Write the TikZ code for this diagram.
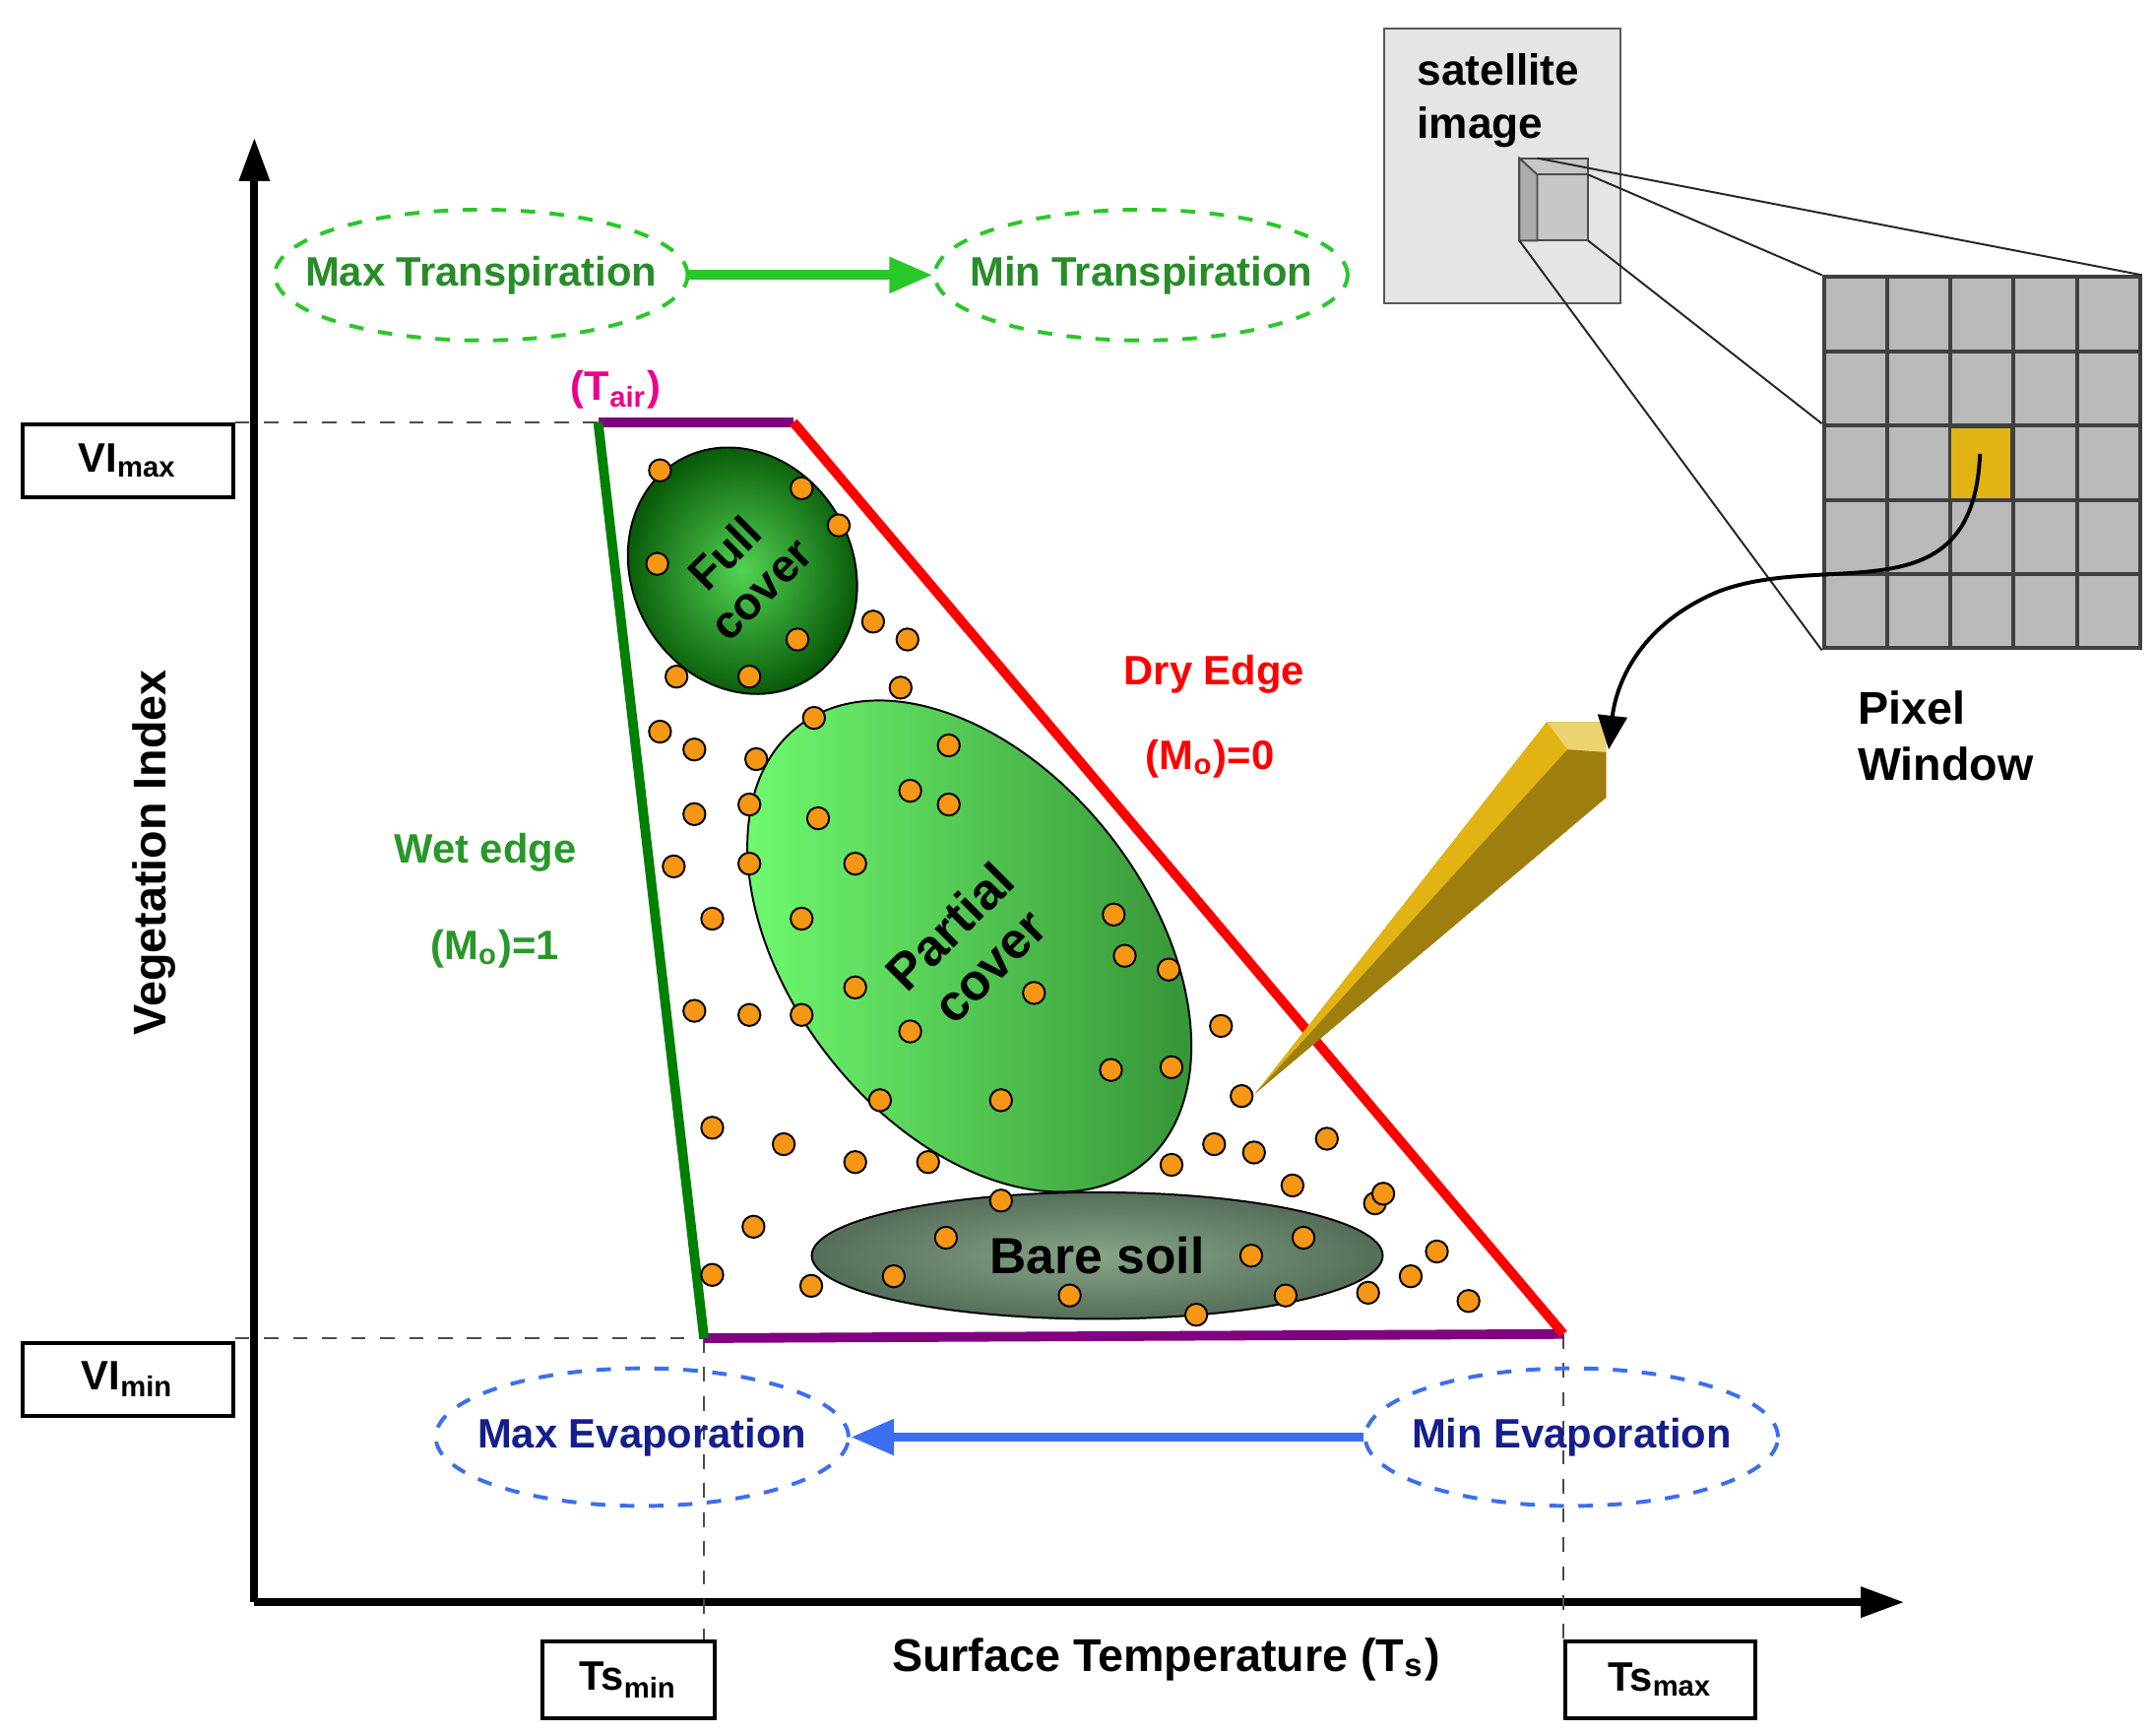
\documentclass[tikz,border=0pt]{standalone}
\usepackage{fontspec}
\setmainfont{Liberation Sans}
\usetikzlibrary{shapes.geometric,arrows.meta}
\definecolor{dgreen}{RGB}{40,140,40}
\definecolor{lgreen}{RGB}{40,200,40}
\definecolor{dblue}{RGB}{20,30,140}
\definecolor{lblue}{RGB}{60,110,240}
\definecolor{dotc}{RGB}{245,150,20}
\definecolor{gold}{RGB}{225,180,20}
\definecolor{soilin}{RGB}{135,165,135}
\definecolor{soilout}{RGB}{85,110,90}
\begin{document}
\begin{tikzpicture}[x=0.01cm,y=-0.01cm,
  txt/.style={font=\fontsize{8.5}{10}\selectfont\bfseries},
  lbox/.style={draw,thick,minimum width=1.53cm,minimum height=0.53cm,anchor=north west,txt,inner sep=0},
  dell/.style={ellipse,dashed,thick,minimum width=3cm,minimum height=0.95cm,inner sep=0},
  dot/.style={circle,draw=black,fill=dotc,minimum size=0.16cm,inner sep=0,line width=0.4pt},
  ax/.style={line width=1.6pt,-{Triangle[length=9pt,width=6pt]}}]
\useasboundingbox (0,0) rectangle (1568,1260);
% axes
\coordinate (o) at (185,1165);
\coordinate (ytop) at (185,100);
\coordinate (xend) at (1385,1165);
\draw[ax] (o) -- (ytop);
\draw[ax] (o) -- (xend);
% label boxes
\node[lbox] (vimax) at (15,307) {VI\textsubscript{max}};
\node[lbox] (vimin) at (15,975) {VI\textsubscript{min}};
\node[lbox,minimum width=1.25cm,minimum height=0.56cm] (tsmin) at (393,1192) {Ts\textsubscript{min}};
\node[lbox,minimum width=1.38cm,minimum height=0.56cm] (tsmax) at (1137,1192) {Ts\textsubscript{max}};
% trapezoid corners
\coordinate (a) at (435,307);
\coordinate (b) at (577,307);
\coordinate (c) at (1137,970);
\coordinate (d) at (512,973);
\draw[dashed,gray!60!black] (vimax.east|-a) -- (a);
\draw[dashed,gray!60!black] (vimin.east|-d) -- (d);
\draw[dashed,gray!60!black] (d) -- (d|-tsmin.north);
\draw[dashed,gray!60!black] (c) -- (c|-tsmax.north);
% ellipses
\node[ellipse,draw=black,minimum width=1.6cm,minimum height=1.85cm,rotate=30,inner color=lgreen!80,outer color=green!30!black] (full) at (540,415) {};
\node[rotate=45,font=\fontsize{9.5}{10.5}\selectfont\bfseries,align=center] at (540,415) {Full\\cover};
\node[ellipse,draw=black,minimum width=2.6cm,minimum height=4.05cm,rotate=38,left color=green!55!white,right color=green!45!black!80] (part) at (705,688) {};
\node[rotate=45,font=\fontsize{10.5}{11.5}\selectfont\bfseries,align=center] at (705,688) {Partial\\cover};
\node[ellipse,draw=black,minimum width=4.15cm,minimum height=0.92cm,inner color=soilin,outer color=soilout] (bare) at (798,913) {};
\node[font=\fontsize{10.5}{12}\selectfont\bfseries] at (bare) {Bare soil};
% trapezoid edges
\draw[line width=2pt,violet] (a) -- (b);
\draw[line width=2pt,violet] (d) -- (c);
\draw[line width=2pt,red] (b) -- (c);
\draw[line width=2pt,green!50!black] (a) -- (d);
\node[txt,magenta] at (448,283) {(T\textsubscript{air})};
% dots
\foreach \p [count=\i] in {(480,342),(583,355),(610,382),(478,410),(635,452),(660,465),(580,465),(545,492),(492,492),(655,500),(480,532),(505,545),(550,552),(592,522),(690,542),(505,592),(545,585),(595,595),(662,575),(690,585),(490,630),(545,628),(622,628),(518,668),(583,668),(810,665),(818,695),(850,705),(622,718),(752,722),(505,735),(545,738),(583,738),(662,750),(888,746),(808,778),(852,776),(903,797),(640,800),(728,800),(518,820),(570,832),(622,845),(675,845),(852,847),(883,832),(912,838),(965,828),(940,862),(1000,875),(1006,868),(728,873),(548,892),(688,900),(910,913),(948,900),(1045,910),(1026,928),(518,927),(590,935),(650,928),(778,942),(935,942),(995,940),(1068,946),(870,956)}
  \node[dot] (p\i) at \p {};
% transpiration / evaporation
\node[dell,draw=lgreen] (maxt) at (350,200) {};
\node[txt,text=dgreen] at (maxt) {Max Transpiration};
\node[dell,draw=lgreen] (mint) at (830,200) {};
\node[txt,text=dgreen] at (mint) {Min Transpiration};
\draw[line width=2pt,lgreen,-{Triangle[length=9pt,width=7pt]}] (maxt) -- (mint);
\node[dell,draw=lblue,minimum height=1cm] (maxe) at (467,1045) {};
\node[txt,text=dblue] at (maxe) {Max Evaporation};
\node[dell,draw=lblue,minimum height=1cm] (mine) at (1143,1045) {};
\node[txt,text=dblue] at (mine) {Min Evaporation};
\draw[line width=2pt,lblue,-{Triangle[length=9pt,width=7pt]}] (mine) -- (maxe);
% edge labels
\node[txt,dgreen!80!lgreen] (wet) at (353,620) {Wet edge};
\node[txt,dgreen!80!lgreen] (wm) at (360,690) {(M\textsubscript{o})=1};
\node[txt,red] (dry) at (883,490) {Dry Edge};
\node[txt,red] (dm) at (880,552) {(M\textsubscript{o})=0};
\node[rotate=90,font=\fontsize{9.5}{12}\selectfont\bfseries] (vi) at (112,620) {Vegetation  Index};
\node[font=\fontsize{9.5}{12}\selectfont\bfseries] (st) at (848,1207) {Surface Temperature (T\textsubscript{s})};
% satellite image
\node[draw=gray!70!black,fill=gray!20,minimum width=1.72cm,minimum height=2cm,anchor=north west] (sat) at (1006,20) {};
\node[font=\fontsize{9}{11}\selectfont\bfseries,align=left,anchor=north west,inner sep=0] at (1030,38) {satellite\\image};
\draw[gray!60!black,fill=gray!45] (1105,115) rectangle (1155,175);
\draw[gray!60!black,fill=gray!65] (1105,115) -- (1118,127) -- (1118,175) -- (1105,175) -- cycle;
\draw[gray!60!black] (1118,127) -- (1155,127);
% grid
\foreach \i in {0,...,4}\foreach \j in {0,...,4}
  \node[draw=gray!50!black,fill=gray!55,minimum width=0.46cm,minimum height=0.54cm,anchor=north west,inner sep=0,line width=0.8pt] (g\i\j) at ({1325+46*\i},{200+54*\j}) {};
\node[draw=gray!50!black,fill=gold,minimum width=0.44cm,minimum height=0.52cm,anchor=north west,inner sep=0] (pix) at (1418,310) {};
\draw[gray!30!black] (1118,115) -- (g40.north east);
\draw[gray!30!black] (1155,127) -- (g00.north west);
\draw[gray!30!black] (1155,175) -- (g02.north west);
\draw[gray!30!black] (1105,175) -- (g04.south west);
\node[font=\fontsize{9.5}{11.5}\selectfont\bfseries,align=left] (pw) at (1415,535) {Pixel\\Window};
% beam
\coordinate (tip) at (913,795);
\fill[gold!80!black] (1125,525) -- (1168,525) -- (1168,580) -- (tip) -- cycle;
\fill[gold] (1125,525) -- (1168,547) -- (tip) -- cycle;
\fill[gold!60!white] (1125,525) -- (1168,525) -- (1168,547) -- (1140,545) -- cycle;
\fill[gold!70!black] (1140,545) -- (1168,547) -- (1168,580) -- (tip) -- cycle;
\coordinate (btop) at (1170,545);
\draw[thick,-{Triangle[length=7pt,width=6pt]}] (1440,330) .. controls (1435,450) and (1330,400) .. (1250,430) .. controls (1190,455) and (1175,500) .. (btop);
\end{tikzpicture}
\end{document}
